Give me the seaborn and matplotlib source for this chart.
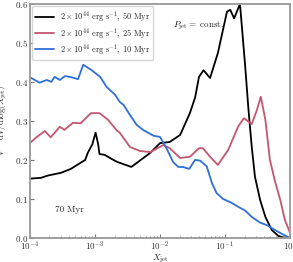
import seaborn as sns
import numpy as np
import matplotlib.pyplot as plt

# log10(X_jet) positions and volume fractions
x_50 = [-4.0, -3.83, -3.72, -3.52, -3.37, -3.15, -3.11, -3.04, -2.99, -2.95, -2.93, -2.85,
        -2.77, -2.66, -2.44, -2.15, -2.0, -1.85, -1.69, -1.54, -1.46, -1.40, -1.33, -1.23,
        -1.11, -0.97, -0.92, -0.86, -0.77, -0.69, -0.64, -0.59, -0.54, -0.46, -0.38, -0.28,
        -0.18, -0.08, 0.0]
y_50 = [0.152, 0.154, 0.16, 0.167, 0.177, 0.2, 0.218, 0.24, 0.27, 0.24, 0.215, 0.213,
        0.205, 0.195, 0.182, 0.218, 0.243, 0.246, 0.264, 0.32, 0.36, 0.413, 0.43, 0.41,
        0.474, 0.58, 0.585, 0.563, 0.6, 0.44, 0.33, 0.235, 0.157, 0.097, 0.054, 0.02,
        0.005, 0.0, 0.0]

x_25 = [-4.0, -3.90, -3.77, -3.68, -3.54, -3.47, -3.34, -3.22, -3.06, -2.93, -2.80, -2.66,
        -2.62, -2.46, -2.31, -2.15, -1.95, -1.85, -1.69, -1.54, -1.40, -1.34, -1.23, -1.11,
        -0.95, -0.80, -0.71, -0.59, -0.51, -0.45, -0.38, -0.31, -0.23, -0.15, -0.08, 0.0]
y_25 = [0.243, 0.258, 0.274, 0.258, 0.285, 0.277, 0.295, 0.294, 0.32, 0.32, 0.303, 0.275,
        0.27, 0.233, 0.223, 0.22, 0.238, 0.23, 0.205, 0.208, 0.23, 0.23, 0.208, 0.187,
        0.226, 0.285, 0.307, 0.292, 0.328, 0.362, 0.303, 0.2, 0.144, 0.097, 0.046, 0.013]

x_10 = [-4.0, -3.85, -3.74, -3.67, -3.62, -3.54, -3.46, -3.36, -3.26, -3.18, -3.05, -2.92,
        -2.82, -2.69, -2.62, -2.56, -2.46, -2.36, -2.26, -2.10, -2.0, -1.90, -1.80, -1.72,
        -1.65, -1.55, -1.46, -1.38, -1.28, -1.20, -1.13, -1.03, -0.90, -0.80, -0.69, -0.59,
        -0.46, -0.36, -0.23, -0.10, 0.0]
y_10 = [0.412, 0.398, 0.405, 0.40, 0.413, 0.405, 0.415, 0.412, 0.407, 0.444, 0.43, 0.413,
        0.387, 0.367, 0.349, 0.341, 0.315, 0.29, 0.277, 0.262, 0.259, 0.23, 0.195, 0.182,
        0.182, 0.177, 0.2, 0.198, 0.183, 0.14, 0.115, 0.1, 0.09, 0.08, 0.07, 0.054,
        0.039, 0.033, 0.02, 0.008, 0.0]

labels = [r'$2\times10^{44}$ erg s$^{-1}$, 50 Myr',
          r'$2\times10^{44}$ erg s$^{-1}$, 25 Myr',
          r'$2\times10^{44}$ erg s$^{-1}$, 10 Myr']
colors = ['black', '#c4566f', '#2f6fd8']

sns.set_style('ticks')
plt.rcParams['font.family'] = ['cmr10', 'DejaVu Serif']
plt.rcParams['mathtext.fontset'] = 'cm'
plt.rcParams['axes.formatter.use_mathtext'] = True
plt.rcParams['font.size'] = 7

fig = plt.figure(figsize=(2.93, 2.62), dpi=100)
ax = fig.add_axes([0.102, 0.092, 0.888, 0.893])

for xs, ys, lab, col in zip([x_50, x_25, x_10], [y_50, y_25, y_10], labels, colors):
    sns.lineplot(x=10 ** np.array(xs), y=ys, color=col, lw=1.3, label=lab, ax=ax)

ax.set_xscale('log')
ax.set_xlim(1e-4, 1)
ax.set_ylim(0, 0.6)
ax.set_xlabel(r'$X_{\rm jet}$', fontsize=6.5)
ax.set_ylabel(r'$V^{-1}\,{\rm d}V/{\rm d}\log(X_{\rm jet})$', fontsize=6.5)
ax.xaxis.set_label_coords(0.5, -0.062)
ax.yaxis.set_label_coords(-0.078, 0.5)
for s in ax.spines.values():
    s.set_color('#999999')
    s.set_linewidth(1.3)
ax.tick_params(which='both', direction='in', colors='#777777', labelcolor='#333333',
               labelsize=6.5, pad=1.5)
ax.tick_params(which='major', length=3)
ax.tick_params(which='minor', length=1.5)
ax.set_yticks([0.0, 0.1, 0.2, 0.3, 0.4, 0.5, 0.6])

ax.legend(loc='upper left', fontsize=6, frameon=True, handlelength=2.2,
          borderaxespad=0.3, labelspacing=0.15, borderpad=0.35)
ax.text(0.55, 0.9, r'$P_{\rm jet}=$ const.', transform=ax.transAxes, fontsize=6.5)
ax.text(0.095, 0.11, '70 Myr', transform=ax.transAxes, fontsize=6.5)

fig.savefig('out.png', dpi=100)
